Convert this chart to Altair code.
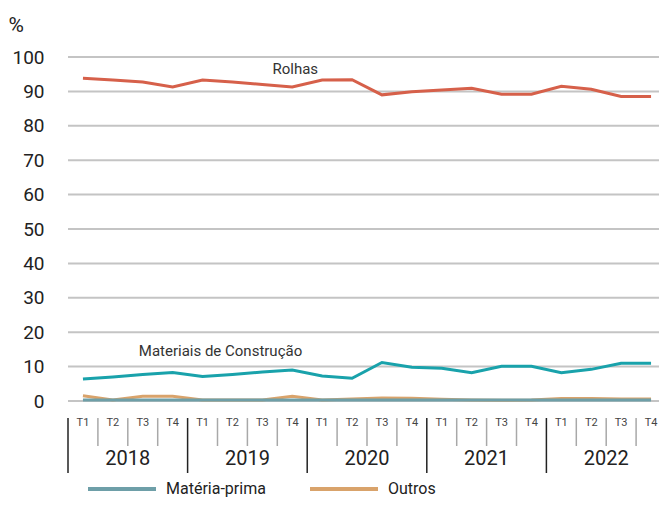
import altair as alt
import pandas as pd

quarters = ["T1", "T2", "T3", "T4"] * 5
years = ["2018", "2019", "2020", "2021", "2022"]
rolhas = [93.8, 93.3, 92.7, 91.3, 93.3, 92.7, 92.0, 91.3, 93.3, 93.4,
          89.0, 89.9, 90.4, 90.9, 89.2, 89.2, 91.5, 90.6, 88.5, 88.5]
materiais = [6.4, 7.0, 7.7, 8.3, 7.1, 7.7, 8.4, 9.0, 7.3, 6.6,
             11.2, 9.8, 9.5, 8.2, 10.1, 10.1, 8.2, 9.2, 11.0, 11.0]
outros = [1.5, 0.3, 1.4, 1.4, 0.3, 0.3, 0.3, 1.4, 0.3, 0.6,
          0.9, 0.8, 0.5, 0.3, 0.2, 0.3, 0.7, 0.7, 0.6, 0.6]
materia_prima = [0.3] * 20

series_names = ["Rolhas", "Materiais de Construção", "Matéria-prima", "Outros"]
series_values = [rolhas, materiais, materia_prima, outros]
series_colors = ["#d6604a", "#19a2ab", "#6e9fa8", "#d9a36b"]

annot_text = ["Rolhas", "Materiais de Construção"]
annot_x = [7.6, 5.1]
annot_y = [96.6, 14.6]

FONT = "Roboto"
W, H = 591, 344
XR = 598  # pixel span of the 20 quarters

rows = []
for name, vals in zip(series_names, series_values):
    for i, v in enumerate(vals):
        rows.append({"series": name, "pos": i + 0.5, "value": v})
df = pd.DataFrame(rows)

xs = alt.Scale(domain=[0, 20], range=[0, XR], nice=False, zero=False)
ys = alt.Scale(domain=[0, 100], nice=False)
cs = alt.Scale(domain=series_names, range=series_colors)

yaxis = alt.Axis(
    values=list(range(0, 101, 10)), grid=False, domain=False, ticks=False,
    labelOverlap=False, labelFontSize=19, labelColor="#222", labelFont=FONT,
    labelPadding=24,
    title="%", titleAngle=0, titleFontSize=21, titleFont=FONT, titleFontWeight="normal",
    titleColor="#222", titleX=-60, titleY=-32, titleAlign="left", titleBaseline="middle")

xenc = alt.X("pos:Q", scale=xs, axis=None)
yenc = lambda f: alt.Y(f, scale=ys, axis=yaxis)

grid = alt.Chart(pd.DataFrame({"v": list(range(0, 101, 10))})).mark_rule(
    color="#c4c4c4", strokeWidth=2).encode(
    y=yenc("v:Q"), x=alt.value(0), x2=alt.value(W))

layers = [grid]
for name in ["Outros", "Matéria-prima", "Materiais de Construção", "Rolhas"]:
    layers.append(
        alt.Chart(df[df.series == name]).mark_line(strokeWidth=3).encode(
            x=xenc,
            y=yenc("value:Q"),
            color=alt.Color("series:N", scale=cs, legend=alt.Legend(
                values=["Matéria-prima", "Outros"], orient="none", legendX=18, legendY=396,
                direction="horizontal", symbolType="stroke", symbolSize=4624,
                symbolStrokeWidth=4, labelFontSize=16, labelFont=FONT, labelColor="#222",
                labelOffset=8, columnPadding=36, title=None)),
        )
    )

ann = pd.DataFrame({"t": annot_text, "pos": annot_x, "value": annot_y})
layers.append(alt.Chart(ann).mark_text(fontSize=15, font=FONT, color="#333").encode(
    x=xenc, y=yenc("value:Q"), text="t:N"))

# Quarter labels and separators
qdf = pd.DataFrame({"q": quarters, "pos": [i + 0.5 for i in range(20)]})
layers.append(alt.Chart(qdf).mark_text(fontSize=11, font=FONT, color="#444").encode(
    x=xenc, y=alt.value(H + 22), text="q:N"))
sep = pd.DataFrame({"pos": [i for i in range(1, 20) if i % 4 != 0]})
layers.append(alt.Chart(sep).mark_rule(color="#a8a8a8", strokeWidth=1.5).encode(
    x=xenc, y=alt.value(H + 17), y2=alt.value(H + 45)))
ysep = pd.DataFrame({"pos": [0, 4, 8, 12, 16]})
layers.append(alt.Chart(ysep).mark_rule(color="#222", strokeWidth=1.5).encode(
    x=xenc, y=alt.value(H + 17), y2=alt.value(H + 72)))
ydf = pd.DataFrame({"y": years, "pos": [2, 6, 10, 14, 18]})
layers.append(alt.Chart(ydf).mark_text(fontSize=20, font=FONT, color="#222").encode(
    x=xenc, y=alt.value(H + 58), text="y:N"))

chart = alt.layer(*layers).properties(
    width=W, height=H,
    autosize=alt.AutoSizeParams(type="none"),
    padding={"left": 60, "top": 49, "right": 0, "bottom": 97},
).configure_view(stroke=None)

chart.save("out.html", embed_options={"renderer": "svg", "actions": False})
